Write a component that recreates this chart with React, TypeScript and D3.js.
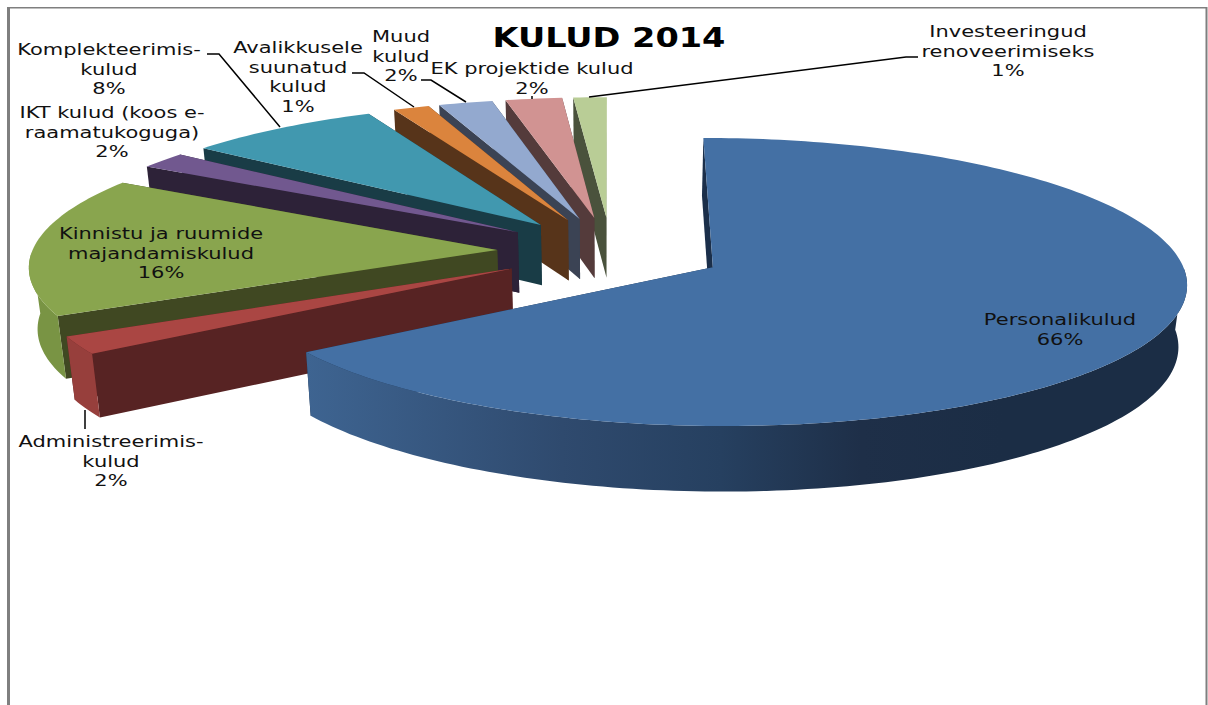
import React from "react";
import * as d3 from "d3";

const title = "KULUD 2014";
const categories = ["Personalikulud", "Administreerimiskulud", "Kinnistu ja ruumide majandamiskulud", "IKT kulud (koos e-raamatukoguga)", "Komplekteerimiskulud", "Avalikkusele suunatud kulud", "Muud kulud", "EK projektide kulud", "Investeeringud renoveerimiseks"];
const values = [65.5, 2.0, 16.0, 1.9, 7.6, 1.4, 2.1, 2.2, 1.3];
const labelLines = [
  ["Personalikulud"],
  ["Administreerimis-", "kulud"],
  ["Kinnistu ja ruumide", "majandamiskulud"],
  ["IKT kulud (koos e-", "raamatukoguga)"],
  ["Komplekteerimis-", "kulud"],
  ["Avalikkusele", "suunatud", "kulud"],
  ["Muud", "kulud"],
  ["EK projektide kulud"],
  ["Investeeringud", "renoveerimiseks"],
];
const topColors = ["#4470a4", "#aa4643", "#89a54e", "#71588f", "#4198af", "#db843d", "#93a9cf", "#d19392", "#b9cd96"];
const faceColors = ["#1b2f4a", "#572323", "#404822", "#2d2238", "#193c46", "#57341a", "#3b4354", "#543b3b", "#4a523c"];
const wallColors = ["#2f4f78", "#973f3c", "#799444", "#5f4a78", "#37808f", "#b96f33", "#7c8fb0", "#b07c7b", "#9cad7f"];

// Layout of the labels and leader lines (screen space)
const labelPos = [[1060, 320], [111, 442], [161, 234], [112, 113], [109, 50], [298, 48], [401, 37], [532, 69], [1008, 32]];
const leaders = [
  [[85, 410], [85, 429]],
  [[207, 54], [219, 54], [280, 127]],
  [[352, 73], [364, 73], [414, 107]],
  [[421, 80], [431, 80], [466, 102]],
  [[532, 96], [532, 99]],
  [[918, 57], [906, 57], [589, 97]],
];

const W = 1208, H = 705;
const cam = { cx: 611, cy: 251, a: 465, b: 139.2, k: 0.1017, depth: 61, shrink: 0.985, explode: 0.245 };

function project(x: number, y: number, bottom = false): [number, number] {
  const s = 1 / (1 + cam.k * y);
  let sx = cam.cx + cam.a * x * s;
  let sy = cam.cy - cam.b * y * s;
  if (bottom) {
    sx = cam.cx + (sx - cam.cx) * cam.shrink;
    sy += cam.depth * Math.pow(s, 0.6);
  }
  return [sx, sy];
}

const path = d3.line<[number, number]>();
const arcs = d3.pie<number>().sort(null).value((d) => d)(values);

function sliceShapes(i: number) {
  const a = arcs[i];
  const mid = (a.startAngle + a.endAngle) / 2;
  const ox = cam.explode * Math.sin(mid), oy = cam.explode * Math.cos(mid);
  const world = (t: number): [number, number] => [ox + Math.sin(t), oy + Math.cos(t)];
  const n = Math.max(4, Math.ceil((a.endAngle - a.startAngle) / 0.02));
  const ts = d3.range(n + 1).map((j) => a.startAngle + ((a.endAngle - a.startAngle) * j) / n);
  const topArc = ts.map((t) => project(...world(t)));
  const botArc = ts.map((t) => project(...world(t), true));
  const apex = project(ox, oy);
  const apexB = project(ox, oy, true);
  const top = path([apex, ...topArc])! + "Z";
  // only the part of the rim that faces the viewer is drawn as a wall
  const front = ts.map((t, j) => ({ t, j })).filter((p) => Math.cos(p.t) <= 0);
  const wall = front.length > 1
    ? path([...front.map((p) => topArc[p.j]), ...front.map((p) => botArc[p.j]).reverse()])! + "Z"
    : null;
  const face = (t: number, tp: [number, number], bt: [number, number]) => ({
    y: world(t)[1],
    d: path([apex, tp, bt, apexB])! + "Z",
  });
  const faces = [
    face(a.startAngle, topArc[0], botArc[0]),
    face(a.endAngle, topArc[n], botArc[n]),
  ].sort((p, q) => q.y - p.y);
  return { top, wall, faces };
}

export default function App() {
  const order = d3.range(values.length).reverse();
  return (
    <svg width={W} height={H} viewBox={`0 0 ${W} ${H}`} style={{ position: "absolute", left: 0, top: 0, display: "block", background: "#fff" }}>
      <defs>
        <linearGradient id="wall0" gradientUnits="userSpaceOnUse" x1={307} y1={0} x2={1187} y2={0}>
          <stop offset="0" stopColor="#3e6491" />
          <stop offset="0.29" stopColor="#2f4a6e" />
          <stop offset="0.47" stopColor="#264060" />
          <stop offset="0.63" stopColor="#1e2f48" />
          <stop offset="0.79" stopColor="#1b2d45" />
          <stop offset="1" stopColor="#1b2d45" />
        </linearGradient>
      </defs>
      <rect x={7} y={7} width={3} height={H} fill="#7f7f7f" />
      <rect x={7} y={7} width={1200} height={1.5} fill="#7f7f7f" />
      <rect x={1205.5} y={7} width={2} height={H} fill="#7f7f7f" />
      {order.map((i) => {
        const s = sliceShapes(i);
        return (
          <g key={categories[i]}>
            {s.faces.map((f, j) => <path key={j} d={f.d} fill={faceColors[i]} />)}
            {s.wall && <path d={s.wall} fill={i === 0 ? "url(#wall0)" : wallColors[i]} />}
            <path d={s.top} fill={topColors[i]} />
          </g>
        );
      })}
      {leaders.map((l, i) => (
        <path key={i} d={path(l as [number, number][])!} fill="none" stroke="#000" strokeWidth={1.5} />
      ))}
      <g transform="translate(609,47) scale(1.29,1)">
        <text textAnchor="middle" fontFamily="'DejaVu Sans'" fontWeight="bold" fontSize={26} fill="#000">{title}</text>
      </g>
      {labelLines.map((lines, i) => {
        const [x, y] = labelPos[i];
        const rows = [...lines, `${Math.round(values[i])}%`];
        return (
          <g key={i} transform={`translate(${x},${y}) scale(1.4,1)`}>
            {rows.map((t, j) => (
              <text key={j} y={j * 19.7 + 5} textAnchor="middle" fontFamily="'DejaVu Sans'" fontSize={15} fill="#111">{t}</text>
            ))}
          </g>
        );
      })}
    </svg>
  );
}
